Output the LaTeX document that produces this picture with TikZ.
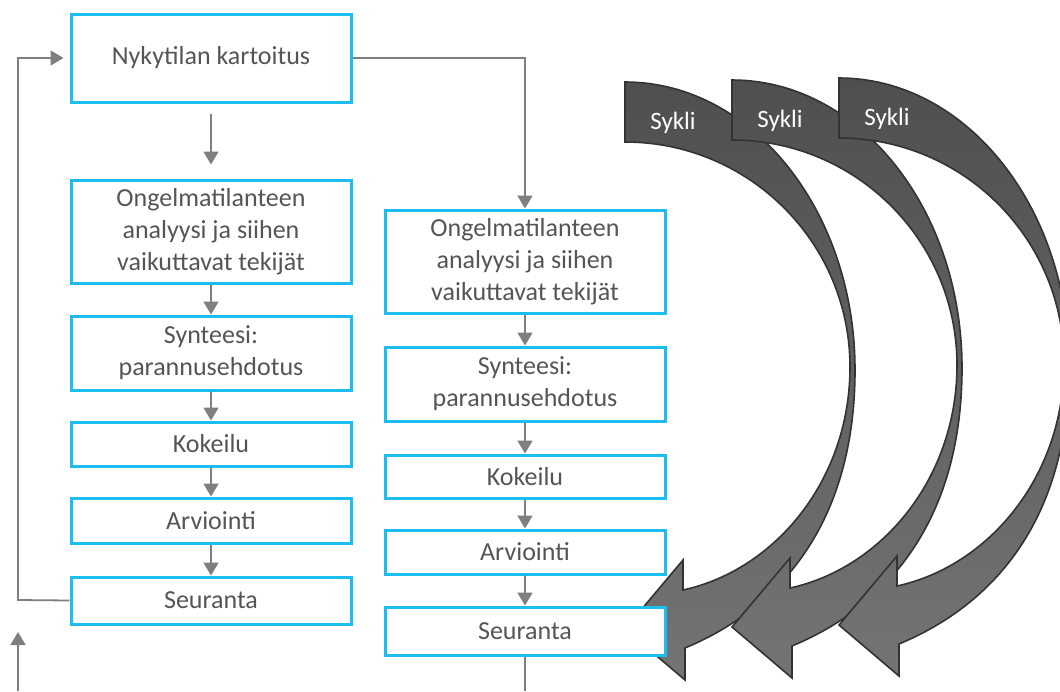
\documentclass[tikz,border=0pt]{standalone}
\usepackage{fontspec}
\setmainfont{Carlito}
\usepackage{tikz}
\usetikzlibrary{positioning}
\usetikzlibrary{arrows.meta}
\usepackage{xcolor}
\definecolor{boxblue}{HTML}{1CBDEF}
\definecolor{txtgray}{HTML}{555555}
\definecolor{linegray}{HTML}{7F7F7F}
\definecolor{syklidark}{HTML}{4F4F4F}
\definecolor{syklilight}{HTML}{747474}
\definecolor{sykliedge}{HTML}{333333}

\begin{document}
\begin{tikzpicture}[x=0.5pt,y=-0.5pt,
    phase/.style={draw=boxblue, line width=1.5pt, fill=white, text=txtgray, align=center,
        minimum width=140pt, inner sep=0pt, font=\fontsize{13}{16}\selectfont},
    flow/.style={draw=linegray, line width=0.9pt, -{Triangle[length=6.5pt,width=7.5pt]}},
    plain/.style={draw=linegray, line width=0.9pt},
    syklishape/.style={draw=sykliedge, line width=0.8pt, top color=syklidark, bottom color=syklilight},
    syklitext/.style={text=white, font=\fontsize{12.5}{15}\selectfont}]
    \useasboundingbox (0,0) rectangle (1060,691);
    \clip (0,0) rectangle (1060,691);

    % Cycle arrows
    \foreach \k in {0,1,2} {
        \begin{scope}[shift={(107*\k,-2*\k)}]
            \draw[syklishape] (625,82) arc[start angle=-90, end angle=0, x radius=230, y radius=288]
                .. controls (855,500) and (800,600) .. (685,648)
                -- (685,680) -- (625,629) -- (683,560) -- (683,590)
                .. controls (775,570) and (850,480) .. (850,367)
                arc[start angle=0, end angle=-90, radius=225] -- cycle;
            \node[syklitext] (sykli\k) at (673,123) {Sykli};
        \end{scope}
    }

    % First round
    \node[phase, minimum height=44pt] (b1) at (211,58) {Nykytilan kartoitus};
    \node[phase, minimum height=51.5pt] (b2) at (211,231.5) {Ongelmatilanteen\\analyysi ja siihen\\vaikuttavat tekijät};
    \node[phase, minimum height=37pt] (b3) at (211,353) {Synteesi:\\parannusehdotus};
    \node[phase, minimum height=22pt] (b4) at (211,444) {Kokeilu};
    \node[phase, minimum height=22.5pt] (b5) at (211,520.5) {Arviointi};
    \node[phase, minimum height=23.5pt] (b6) at (211,600.5) {Seuranta};

    % Second round
    \node[phase, minimum height=51.5pt] (c2) at (525,261.5) {Ongelmatilanteen\\analyysi ja siihen\\vaikuttavat tekijät};
    \node[phase, minimum height=37pt] (c3) at (525,384) {Synteesi:\\parannusehdotus};
    \node[phase, minimum height=21.5pt] (c4) at (525,476.5) {Kokeilu};
    \node[phase, minimum height=22pt] (c5) at (525,552) {Arviointi};
    \node[phase, minimum height=24pt] (c6) at (525,631) {Seuranta};

    % Connectors
    \draw[flow, shorten <=5pt, shorten >=7pt] (b1) -- (b2);
    \draw[flow] (b2) -- (b3);
    \draw[flow] (b3) -- (b4);
    \draw[flow] (b4) -- (b5);
    \draw[flow] (b5) -- (b6);
    \draw[flow] (b1.east) -| (c2.north);
    \draw[flow] (c2) -- (c3);
    \draw[flow] (c3) -- (c4);
    \draw[flow] (c4) -- (c5);
    \draw[flow] (c5) -- (c6);

    % Feedback loop
    \coordinate (loopcorner) at (18,600);
    \draw[flow, shorten >=3pt] (b6.west) -- (loopcorner) |- (b1.west);
    \coordinate (inleft) at (18,691);
    \coordinate (intip) at (18,632);
    \draw[flow] (inleft) -- (intip);
    \coordinate (outright) at (525,691);
    \draw[plain] (c6.south) -- (outright);
\end{tikzpicture}
\end{document}
